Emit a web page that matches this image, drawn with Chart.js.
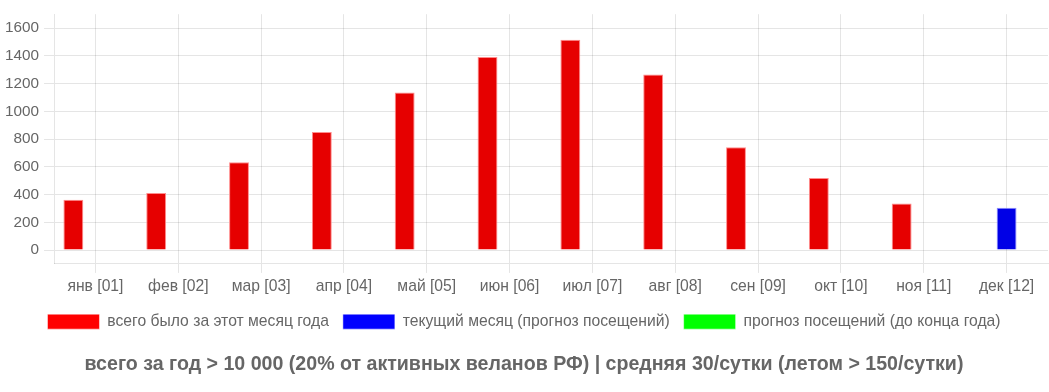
<!DOCTYPE html>
<html>
<head>
<meta charset="utf-8">
<script src="https://cdn.jsdelivr.net/npm/chart.js@4/dist/chart.umd.min.js"></script>
<style>
html,body{margin:0;padding:0;background:#fff;}
#wrap{width:1049px;height:392px;position:relative;}
</style>
</head>
<body>
<div id="wrap"><canvas id="c" width="1049" height="392"></canvas></div>
<script>
const categories = ['янв [01]','фев [02]','мар [03]','апр [04]','май [05]','июн [06]','июл [07]','авг [08]','сен [09]','окт [10]','ноя [11]','дек [12]'];
const totalByMonth = [362, 412, 632, 850, 1136, 1392, 1515, 1265, 741, 520, 336, null];
const currentMonth = [null, null, null, null, null, null, null, null, null, null, null, 305];
const forecastRest = [null, null, null, null, null, null, null, null, null, null, null, null];
const seriesNames = ['всего было за этот месяц года', 'текущий месяц (прогноз посещений)', 'прогноз посещений (до конца года)'];
const yTicks = [0, 200, 400, 600, 800, 1000, 1200, 1400, 1600];
const titleText = 'всего за год > 10 000 (20% от активных веланов РФ) | средняя 30/сутки (летом > 150/сутки)';

const FONT = "'Liberation Sans', Arial, Helvetica, sans-serif";
Chart.defaults.font.family = FONT;
Chart.defaults.color = '#666';

const legendColors = ['#ff0000', '#0000ff', '#00ff00'];

new Chart(document.getElementById('c'), {
  type: 'bar',
  data: {
    labels: categories,
    datasets: [
      {label: seriesNames[0], data: totalByMonth, backgroundColor: '#e60000', borderColor: 'rgba(255,140,140,1)', borderWidth: 1},
      {label: seriesNames[1], data: currentMonth, backgroundColor: '#0000e6', borderColor: 'rgba(140,140,255,1)', borderWidth: 1},
      {label: seriesNames[2], data: forecastRest, backgroundColor: '#00e600', borderColor: 'rgba(140,255,140,1)', borderWidth: 1}
    ]
  },
  options: {
    responsive: false,
    animation: false,
    layout: {padding: {left: 0, right: 1, top: 13, bottom: 5}},
    scales: {
      x: {
        offset: true,
        grid: {offset: false, color: 'rgba(0,0,0,0.1)', tickLength: 9},
        border: {color: 'rgba(0,0,0,0.1)'},
        ticks: {font: {size: 15.7}, color: '#666', padding: 4, maxRotation: 0}
      },
      y: {
        min: -100,
        max: 1700,
        afterBuildTicks: (axis) => { axis.ticks = yTicks.map(v => ({value: v})); },
        grid: {color: 'rgba(0,0,0,0.1)', tickLength: 10},
        border: {color: 'rgba(0,0,0,0.1)'},
        ticks: {font: {size: 15.3}, color: '#666', padding: 5, callback: (v) => String(v)}
      }
    },
    plugins: {
      legend: {
        position: 'bottom',
        labels: {
          boxWidth: 52,
          boxHeight: 15,
          padding: 14,
          font: {size: 15.7},
          color: '#666',
          generateLabels: (chart) => chart.data.datasets.map((ds, i) => ({
            text: ds.label,
            fillStyle: legendColors[i],
            strokeStyle: 'rgba(255,255,255,0.5)',
            lineWidth: 1,
            hidden: false,
            datasetIndex: i,
            fontColor: '#666'
          }))
        }
      },
      title: {
        display: true,
        position: 'bottom',
        text: titleText,
        font: {size: 19.6, weight: 'bold'},
        color: '#666',
        padding: {top: 13, bottom: 11}
      },
      tooltip: {enabled: false}
    }
  }
});
</script>
</body>
</html>
